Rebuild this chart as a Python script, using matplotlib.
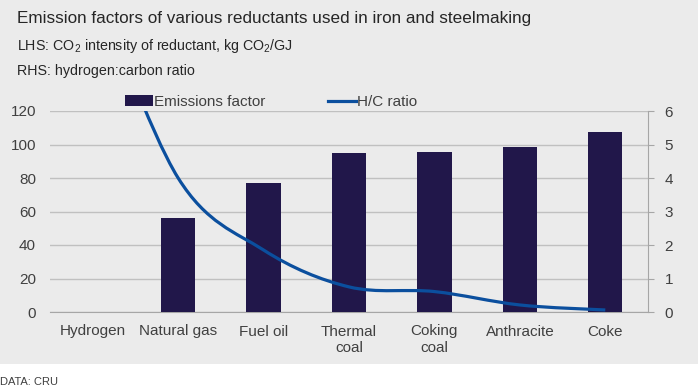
import numpy as np
import matplotlib
matplotlib.use("Agg")
import matplotlib.pyplot as plt
from matplotlib.path import Path
from matplotlib.patches import PathPatch, Rectangle
from matplotlib.lines import Line2D

plt.rcParams['font.family'] = ['Liberation Sans', 'DejaVu Sans']
plt.rcParams['mathtext.fontset'] = 'custom'
plt.rcParams['mathtext.rm'] = 'Liberation Sans'
plt.rcParams['mathtext.it'] = 'Liberation Sans'

# data
categories = ['Hydrogen', 'Natural gas', 'Fuel oil', 'Thermal\ncoal',
              'Coking\ncoal', 'Anthracite', 'Coke']
emissions = [0, 56, 77, 95, 95.3, 98.3, 107.3]
hc_ratio = [10, 4.0, 1.85, 0.75, 0.61, 0.21, 0.06]

bar_col = '#21174a'
line_col = '#0b4f9e'
txt_col = '#404040'
grid_col = '#c0c0c0'


def smooth_path(x, y):
    # excel-like smoothed line: catmull-rom as cubic bezier
    pts = np.column_stack([x, y]).astype(float)
    n = len(pts)
    verts = [pts[0]]
    codes = [Path.MOVETO]
    for i in range(n - 1):
        p0 = pts[max(i - 1, 0)]
        p1 = pts[i]
        p2 = pts[i + 1]
        p3 = pts[min(i + 2, n - 1)]
        c1 = p1 + (p2 - p0) / 6
        c2 = p2 - (p3 - p1) / 6
        verts += [c1, c2, p2]
        codes += [Path.CURVE4] * 3
    return Path(verts, codes)


def main():
    fig = plt.figure(figsize=(6.98, 3.88), dpi=100, facecolor='white')
    fig.patches.append(Rectangle((0, 24 / 388), 1, 1, transform=fig.transFigure,
                                 facecolor='#ebebeb', edgecolor='none', zorder=-10))

    ax = fig.add_axes([50 / 698, 76 / 388, 598 / 698, 201 / 388])
    ax.patch.set_alpha(0)
    x = np.arange(len(categories))

    ax.bar(x, emissions, width=0.4, color=bar_col, zorder=3)
    ax.set_ylim(0, 120)
    ax.set_xlim(-0.5, len(categories) - 0.5)
    ax.set_yticks(np.arange(0, 121, 20))
    ax.yaxis.grid(True, color=grid_col, linewidth=1)
    ax.set_axisbelow(True)
    for s in ['top', 'right', 'left']:
        ax.spines[s].set_visible(False)
    ax.spines['bottom'].set_color('#a6a6a6')
    ax.tick_params(axis='y', length=0, pad=10, labelsize=11, labelcolor=txt_col)
    ax.tick_params(axis='x', length=0, pad=9, labelsize=11, labelcolor=txt_col)
    ax.set_xticks(x)
    ax.set_xticklabels(categories, linespacing=1.25)

    ax2 = ax.twinx()
    ax2.set_ylim(0, 6)
    ax2.set_yticks(np.arange(0, 7, 1))
    for s in ['top', 'left', 'bottom']:
        ax2.spines[s].set_visible(False)
    ax2.spines['right'].set_color('#a6a6a6')
    ax2.tick_params(axis='y', length=4, color='#a6a6a6', pad=8, labelsize=11,
                    labelcolor=txt_col)
    ax2.add_patch(PathPatch(smooth_path(x, hc_ratio), fill=False,
                            edgecolor=line_col, linewidth=2.3, zorder=5))

    handles = [Rectangle((0, 0), 1, 1, facecolor=bar_col),
               Line2D([], [], color=line_col, linewidth=2.3)]
    ax.legend(handles, ['Emissions factor', 'H/C ratio'], ncol=2, frameon=False,
              loc='lower left', bbox_to_anchor=(69 / 598, 0.98),
              borderaxespad=0, fontsize=11, handlelength=1.8, handletextpad=0.1,
              columnspacing=4.1, labelcolor=txt_col)

    fig.text(17 / 698, 1 - 19 / 388, 'Emission factors of various reductants used in iron and steelmaking',
             fontsize=12.3, color='#262626', va='center')
    fig.text(17 / 698, 1 - 46 / 388, 'LHS: CO$_2$ intensity of reductant, kg CO$_2$/GJ',
             fontsize=10.3, color='#262626', va='center')
    fig.text(17 / 698, 1 - 71 / 388, 'RHS: hydrogen:carbon ratio',
             fontsize=10.3, color='#262626', va='center')
    fig.text(0, 1 - 382 / 388, 'DATA: CRU', fontsize=8, color='#404040', va='center')

    fig.savefig('out.png', dpi=100, facecolor='white')


if __name__ == '__main__':
    main()
